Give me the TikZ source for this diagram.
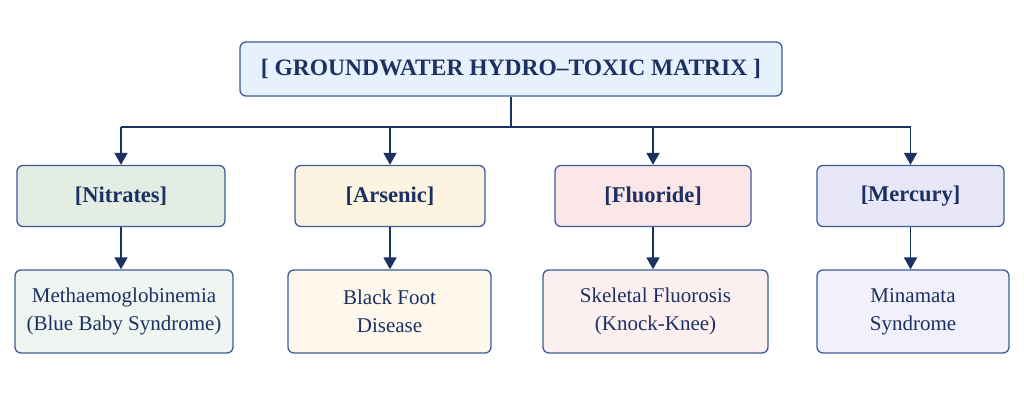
\documentclass[tikz,border=0pt]{standalone}
\usepackage{fontspec}
\setmainfont{Liberation Serif}
\usetikzlibrary{arrows.meta,positioning,calc}
\definecolor{ink}{RGB}{28,48,98}
\definecolor{rim}{RGB}{62,92,152}
\definecolor{titlefill}{RGB}{231,241,251}
\definecolor{nitfill}{RGB}{226,238,228}
\definecolor{nitpale}{RGB}{239,246,241}
\definecolor{arsfill}{RGB}{252,243,224}
\definecolor{arspale}{RGB}{253,248,235}
\definecolor{flufill}{RGB}{251,230,232}
\definecolor{flupale}{RGB}{252,239,240}
\definecolor{merfill}{RGB}{232,231,248}
\definecolor{merpale}{RGB}{241,240,251}

\begin{document}
\begin{tikzpicture}[x=1pt,y=-1pt,
  box/.style={draw=rim,line width=1.3pt,rounded corners=6pt,align=center,text=ink,inner sep=0pt},
  head/.style={box,font=\fontsize{22.5}{26}\selectfont\bfseries,minimum height=61pt},
  ill/.style={box,font=\fontsize{21}{28}\selectfont,minimum height=83pt},
  ed/.style={-{Triangle[length=12pt,width=13pt]},line width=1.8pt,draw=ink,fill=ink}]
\useasboundingbox (0,0) rectangle (1024,409);
\node[box,fill=titlefill,minimum width=542pt,minimum height=54pt,font=\fontsize{23.5}{26}\selectfont\bfseries] (top) at (511,69) {[\ GROUNDWATER HYDRO--TOXIC MATRIX\ ]};
\coordinate (bus) at (511,127);
% pollutants
\node[head,fill=nitfill,minimum width=208pt] (nit) at (121,196) {[Nitrates]};
\node[head,fill=arsfill,minimum width=190pt] (ars) at (390,196) {[Arsenic]};
\node[head,fill=flufill,minimum width=196pt] (flu) at (653,196) {[Fluoride]};
\node[head,fill=merfill,minimum width=187pt] (mer) at (910.5,196) {[Mercury]};
% diseases
\node[ill,fill=nitpale,minimum width=218pt] (met) at (124,311.5) {Methaemoglobinemia\\(Blue Baby Syndrome)};
\node[ill,fill=arspale,minimum width=203pt] (bfd) at (389.5,311.5) {Black Foot\\Disease};
\node[ill,fill=flupale,minimum width=225pt] (skf) at (655.5,311.5) {Skeletal Fluorosis\\(Knock-Knee)};
\node[ill,fill=merpale,minimum width=192pt] (min) at (913,311.5) {Minamata\\Syndrome};
\draw[ink,line width=1.8pt] (top) -- (bus);
\draw[ink,line width=1.8pt] (nit |- bus) -- (mer |- bus);
\foreach \n in {nit,ars,flu,mer} {\draw[ed] (\n |- bus) -- (\n);}
\foreach \a/\b in {nit/met,ars/bfd,flu/skf,mer/min} {\draw[ed] (\a) -- (\a |- \b.north);}
\end{tikzpicture}
\end{document}
